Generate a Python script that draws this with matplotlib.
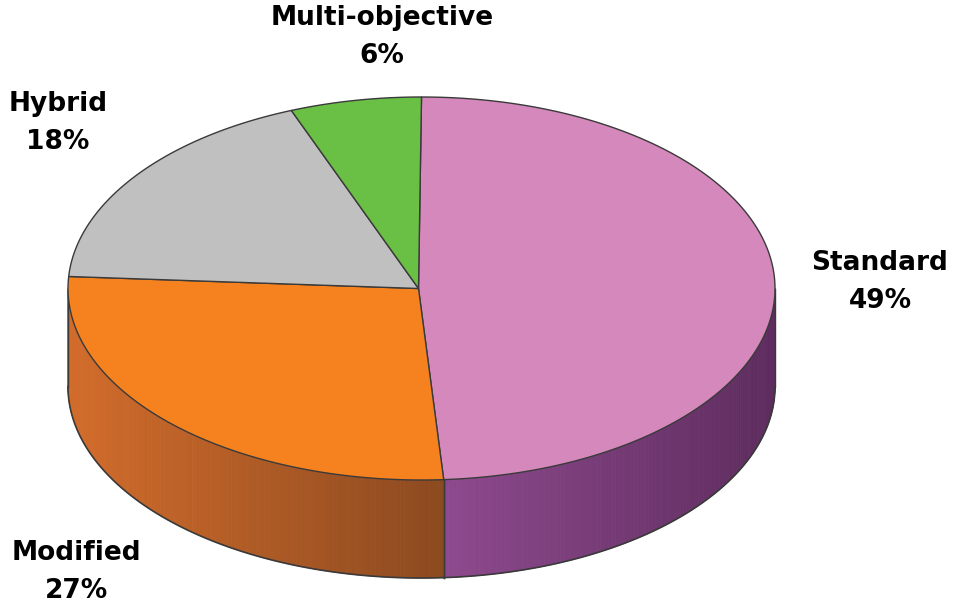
import numpy as np
import matplotlib.pyplot as plt
import matplotlib.colors as mcolors
from matplotlib.patches import Polygon

plt.rcParams["font.family"] = ["DejaVu Sans"]

# data
categories = ["Standard", "Modified", "Hybrid", "Multi-objective"]
shares = [49, 27, 18, 6]
top_colors = ["#d488bb", "#f5821f", "#c0c0c0", "#6abf45"]
side_light = ["#8e4a8e", "#d26c2b", "#a0a0a0", "#4f9a30"]
side_dark = ["#5e2c5e", "#8c4a20", "#808080", "#3c7a24"]

# pie geometry (in pixel-like data units)
cx, cy = 421.5, 288.5
rx, ry = 353.5, 191.5
depth = 98
edge = "#3a3a3a"

fig = plt.figure(figsize=(9.55, 6.09), dpi=100)
ax = fig.add_axes([0, 0, 1, 1])
ax.set_xlim(0, 955)
ax.set_ylim(609, 0)
ax.axis("off")


def pt(theta):
    return cx + rx * np.cos(theta), cy - ry * np.sin(theta)


total = sum(shares)
start = np.pi / 2
bounds = []
for v in shares:
    end = start - 2 * np.pi * v / total
    bounds.append((start, end))
    start = end

# sides (front half only)
for (t0, t1), c0, c1 in zip(bounds, side_light, side_dark):
    lo, hi = min(t0, t1), max(t0, t1)
    for shift in (0, 2 * np.pi, -2 * np.pi):
        a = max(lo + shift, -np.pi)
        b = min(hi + shift, 0)
        if b <= a:
            continue
        ts = np.linspace(a, b, 120)
        xs_all = [pt(t)[0] for t in ts]
        xmin, xmax = min(xs_all), max(xs_all)
        cmap = mcolors.LinearSegmentedColormap.from_list("s", [c0, c1])
        for i in range(len(ts) - 1):
            xa, ya = pt(ts[i])
            xb, yb = pt(ts[i + 1])
            f = ((xa + xb) / 2 - xmin) / max(xmax - xmin, 1)
            ax.add_patch(Polygon([(xa, ya), (xb, yb), (xb, yb + depth), (xa, ya + depth)],
                                 closed=True, facecolor=cmap(f), edgecolor=cmap(f),
                                 lw=0.6, zorder=1))
        xa, ya = pt(a)
        xb, yb = pt(b)
        outline = [pt(t) for t in ts]
        ax.plot([p[0] for p in outline], [p[1] + depth for p in outline], color=edge, lw=1.2, zorder=2)
        ax.plot([xa, xa], [ya, ya + depth], color=edge, lw=1.0, zorder=2)
        ax.plot([xb, xb], [yb, yb + depth], color=edge, lw=1.0, zorder=2)

# top face
for (t0, t1), col in zip(bounds, top_colors):
    ts = np.linspace(t0, t1, 200)
    verts = [(cx - 3, cy)] + [pt(t) for t in ts]
    ax.add_patch(Polygon(verts, closed=True, facecolor=col, edgecolor=edge, lw=1.0, zorder=3))

# labels
label_pos = [(880, 282), (76, 572), (58, 123), (382, 37)]
for name, v, (x, y) in zip(categories, shares, label_pos):
    ax.text(x, y, f"{name}\n{v}%", ha="center", va="center", fontsize=19,
            fontweight="bold", linespacing=1.6, color="black")

fig.savefig("out.png", dpi=100)
